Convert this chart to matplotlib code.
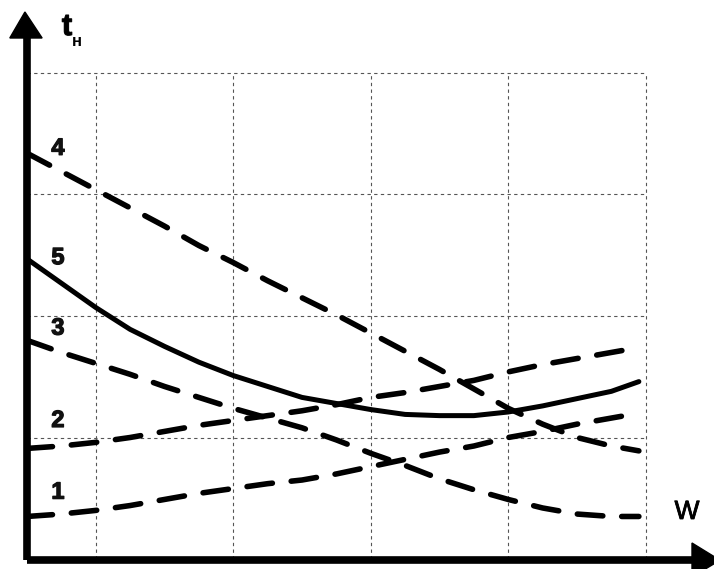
import numpy as np
import matplotlib.pyplot as plt
import matplotlib.patheffects as pe

# curve data (x and y in grid units)
w = [0.0, 0.25, 0.5, 0.75, 1.0, 1.25, 1.5, 1.75, 2.0, 2.25,
     2.5, 2.75, 3.0, 3.25, 3.5, 3.75, 4.0, 4.25, 4.45]
t1 = [0.35, 0.37, 0.40, 0.44, 0.49, 0.54, 0.58, 0.62, 0.65, 0.70,
      0.76, 0.82, 0.88, 0.93, 1.00, 1.05, 1.11, 1.16, 1.20]
t2 = [0.91, 0.93, 0.96, 1.00, 1.05, 1.10, 1.14, 1.18, 1.22, 1.27,
      1.33, 1.37, 1.42, 1.47, 1.54, 1.60, 1.65, 1.70, 1.74]
t3 = [1.80, 1.70, 1.61, 1.52, 1.42, 1.33, 1.24, 1.16, 1.08, 0.98,
      0.87, 0.77, 0.66, 0.57, 0.49, 0.42, 0.37, 0.35, 0.35]
t4 = [3.34, 3.19, 3.04, 2.89, 2.74, 2.58, 2.44, 2.29, 2.15, 2.01,
      1.86, 1.71, 1.56, 1.40, 1.24, 1.11, 1.00, 0.93, 0.89]
t5 = [2.47, 2.27, 2.07, 1.89, 1.75, 1.62, 1.51, 1.42, 1.33, 1.28,
      1.23, 1.19, 1.18, 1.18, 1.21, 1.26, 1.32, 1.38, 1.46]

curve_labels = ['1', '2', '3', '4', '5']
label_y = [0.55, 1.14, 1.90, 3.38, 2.48]

grid_x = [0.5, 1.5, 2.5, 3.5, 4.5]
grid_y = [1, 2, 3, 4]

fig = plt.figure(figsize=(7.14, 5.69), dpi=100)
ax = fig.add_axes([0, 0, 1, 1])
ax.set_xlim(-27 / 137.5, (714 - 27) / 137.5)
ax.set_ylim(-10 / 121.5, 559 / 121.5)
ax.axis('off')

# dotted grid
for gx in grid_x:
    ax.plot([gx, gx], [0, 4], color='#555555', lw=0.8, ls=(0, (3, 3)), zorder=1)
for gy in grid_y:
    ax.plot([0, 4.5], [gy, gy], color='#555555', lw=0.8, ls=(0, (3, 3)), zorder=1)

# curves
for ys in [t1, t2, t3, t4]:
    line, = ax.plot(w, ys, color='black', lw=4.0, zorder=3)
    line.set_dashes((4.6, 3.4))
    line.set_dash_capstyle('round')
ax.plot(w, t5, color='black', lw=3.6, solid_capstyle='round', zorder=3)

thick = [pe.withStroke(linewidth=0.9, foreground='#111111')]
for lab, ly in zip(curve_labels, label_y):
    ax.text(0.225, ly, lab, fontsize=17, fontweight='bold', family='Liberation Sans',
            ha='center', va='center', color='#111111', path_effects=thick)

# axes with arrows
ax.plot([0, 0], [-0.01, 4.3], color='black', lw=5.5, solid_capstyle='butt', zorder=4)
ax.plot([0, 4.9], [-0.01, -0.01], color='black', lw=5.5, solid_capstyle='butt', zorder=4)
ax.fill([-0.125, 0.11, -0.015], [(559 - 38) / 121.5, (559 - 38) / 121.5, (559 - 12) / 121.5],
        color='black', zorder=5)
ax.fill([(692 - 27) / 137.5, (692 - 27) / 137.5, (720 - 27) / 137.5],
        [(559 - 543) / 121.5, (559 - 577) / 121.5, -0.01], color='black', zorder=5)

ax.text((67 - 27) / 137.5, (559 - 27) / 121.5, 't', fontsize=22, fontweight='bold',
        family='Liberation Sans', ha='center', va='center', path_effects=thick)
ax.text((77 - 27) / 137.5, (559 - 41) / 121.5, 'н', fontsize=12, fontweight='bold',
        family='Liberation Sans', ha='center', va='center')
ax.text((687 - 27) / 137.5, (559 - 512) / 121.5, 'W', fontsize=19,
        family='Liberation Sans', ha='center', va='center',
        path_effects=[pe.withStroke(linewidth=0.6, foreground='black')])

fig.savefig('out.png', dpi=100)
